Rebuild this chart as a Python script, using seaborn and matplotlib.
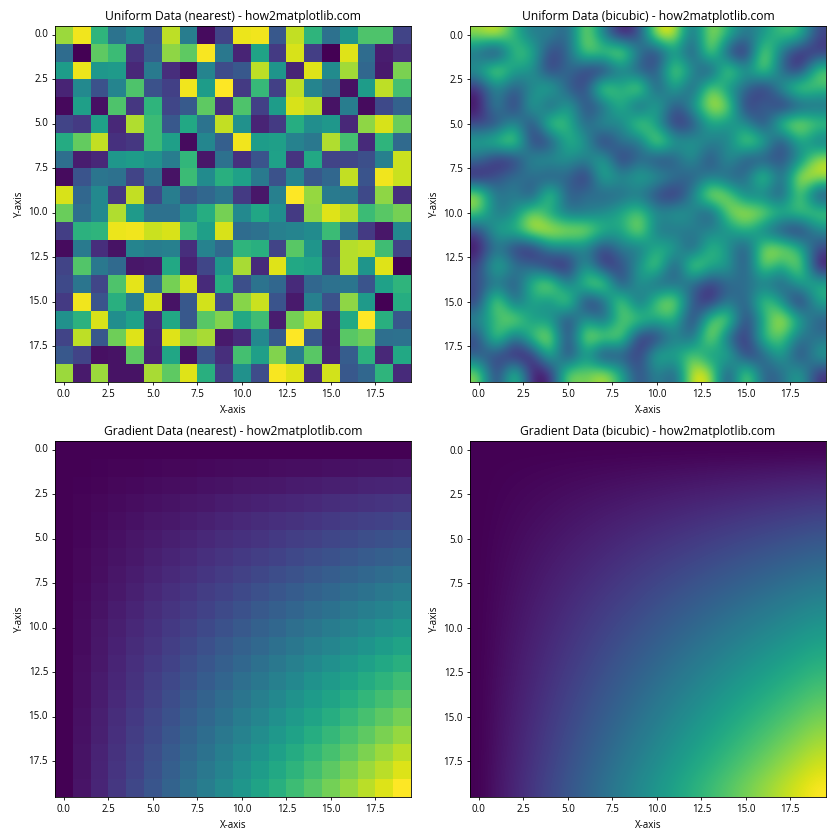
import matplotlib
matplotlib.use("Agg")
import matplotlib.pyplot as plt
import numpy as np
import seaborn as sns

# values
uniform_rows = [
    [.85, .98, .65, .38, .47, .27, .90, .42, .03, .20, .97, .98, .27, .91, .65, .37, .52, .72, .72, .20],
    [.35, .00, .75, .68, .15, .30, .83, .75, .99, .40, .10, .58, .17, .94, .18, .00, .95, .35, .08, .13],
    [.55, .97, .53, .54, .11, .41, .13, .05, .45, .23, .27, .90, .52, .10, .95, .48, .86, .33, .07, .80],
    [.10, .47, .25, .45, .72, .25, .19, .98, .55, 1.0, .17, .67, .19, .90, .45, .36, .04, .55, .90, .70],
    [.02, .56, .04, .72, .16, .65, .21, .28, .75, .14, .72, .19, .55, .94, .90, .05, .42, .03, .22, .31],
    [.20, .17, .57, .11, .88, .68, .27, .60, .38, .91, .50, .10, .17, .62, .49, .53, .11, .83, .94, .77],
    [.61, .76, .91, .14, .16, .68, .56, .03, .46, .30, .98, .55, .56, .44, .40, .88, .70, .12, .65, .34],
    [.36, .08, .11, .53, .55, .51, .42, .66, .06, .37, .14, .26, .57, .15, .60, .20, .21, .24, .43, .92],
    [.03, .26, .39, .37, .20, .36, .05, .68, .48, .63, .57, .41, .25, .45, .27, .33, .91, .26, .98, .92],
    [.94, .33, .47, .16, .91, .22, .42, .28, .33, .39, .17, .06, .43, 1.0, .84, .41, .40, .22, .83, .14],
    [.77, .36, .47, .88, .54, .37, .37, .49, .62, .79, .47, .59, .49, .17, .83, .95, .89, .68, .74, .79],
    [.18, .64, .65, .97, .98, .92, .94, .67, .56, .94, .35, .37, .43, .45, .48, .68, .38, .17, .06, .47],
    [.03, .41, .13, .05, .45, .42, .43, .13, .44, .34, .65, .63, .20, .74, .52, .18, .89, .91, .69, .20],
    [.20, .73, .40, .34, .06, .07, .60, .09, .21, .53, .87, .12, .95, .60, .58, .20, .89, .52, .95, .00],
    [.22, .39, .21, .72, .96, .34, .79, .94, .12, .62, .24, .38, .33, .12, .33, .37, .39, .26, .57, .65],
    [.17, .98, .26, .63, .42, .94, .05, .27, .93, .22, .82, .92, .26, .07, .43, .25, .83, .54, .00, .62],
    [.50, .64, .94, .49, .57, .12, .60, .27, .74, .81, .60, .69, .08, .79, .90, .10, .60, 1.0, .63, .27],
    [.20, .90, .27, .78, .95, .10, .95, .83, .87, .07, .12, .47, .28, 1.0, .27, .09, .74, .78, .36, .37],
    [.27, .20, .04, .05, .75, .09, .59, .04, .26, .13, .70, .56, .81, .42, .74, .10, .29, .64, .11, .60],
    [.85, .07, .85, .05, .05, .87, .75, .95, .63, .18, .50, .23, .99, .95, .12, .93, .27, .33, .65, .12],
]
gradient_rows = [
    [0] * 20,
    [0, .003, .006, .008, .011, .014, .017, .019, .022, .025, .028, .030, .033, .036, .039, .042, .044, .047, .050, .053],
    [0, .006, .011, .017, .022, .028, .033, .039, .044, .050, .055, .061, .066, .072, .078, .083, .089, .094, .100, .105],
    [0, .008, .017, .025, .033, .042, .050, .058, .066, .075, .083, .091, .100, .108, .116, .125, .133, .141, .150, .158],
    [0, .011, .022, .033, .044, .055, .066, .078, .089, .100, .111, .122, .133, .144, .155, .166, .177, .188, .199, .211],
    [0, .014, .028, .042, .055, .069, .083, .097, .111, .125, .139, .152, .166, .180, .194, .208, .222, .235, .249, .263],
    [0, .017, .033, .050, .066, .083, .100, .116, .133, .150, .166, .183, .199, .216, .233, .249, .266, .283, .299, .316],
    [0, .019, .039, .058, .078, .097, .116, .136, .155, .175, .194, .213, .233, .252, .271, .291, .310, .330, .349, .368],
    [0, .022, .044, .066, .089, .111, .133, .155, .177, .199, .222, .244, .266, .288, .310, .332, .355, .377, .399, .421],
    [0, .025, .050, .075, .100, .125, .150, .175, .199, .224, .249, .274, .299, .324, .349, .374, .399, .424, .449, .474],
    [0, .028, .055, .083, .111, .139, .166, .194, .222, .249, .277, .305, .332, .360, .388, .416, .443, .471, .499, .526],
    [0, .030, .061, .091, .122, .152, .183, .213, .244, .274, .305, .335, .366, .396, .427, .457, .488, .518, .548, .579],
    [0, .033, .066, .100, .133, .166, .199, .233, .266, .299, .332, .366, .399, .432, .465, .499, .532, .565, .598, .632],
    [0, .036, .072, .108, .144, .180, .216, .252, .288, .324, .360, .396, .432, .468, .504, .540, .576, .612, .648, .684],
    [0, .039, .078, .116, .155, .194, .233, .271, .310, .349, .388, .427, .465, .504, .543, .582, .620, .659, .698, .737],
    [0, .042, .083, .125, .166, .208, .249, .291, .332, .374, .416, .457, .499, .540, .582, .623, .665, .706, .748, .789],
    [0, .044, .089, .133, .177, .222, .266, .310, .355, .399, .443, .488, .532, .576, .620, .665, .709, .753, .798, .842],
    [0, .047, .094, .141, .188, .235, .283, .330, .377, .424, .471, .518, .565, .612, .659, .706, .753, .801, .848, .895],
    [0, .050, .100, .150, .199, .249, .299, .349, .399, .449, .499, .548, .598, .648, .698, .748, .798, .848, .898, .947],
    [0, .053, .105, .158, .211, .263, .316, .368, .421, .474, .526, .579, .632, .684, .737, .789, .842, .895, .947, 1.0],
]
tick_values = [0.0, 2.5, 5.0, 7.5, 10.0, 12.5, 15.0, 17.5]
tick_labels = ["0.0", "2.5", "5.0", "7.5", "10.0", "12.5", "15.0", "17.5"]
site = "how2matplotlib.com"

sns.set_theme(style="white", rc={"axes.linewidth": 0.6, "xtick.bottom": True, "ytick.left": True,
                                 "xtick.major.size": 2.5, "ytick.major.size": 2.5,
                                 "xtick.major.width": 0.6, "ytick.major.width": 0.6,
                                 "axes.edgecolor": "black", "text.color": "black",
                                 "axes.labelcolor": "black", "xtick.color": "black", "ytick.color": "black"})
plt.rcParams["font.family"] = ["Open Sans", "DejaVu Sans"]


def draw_panel(ax, rows, name, interpolation):
    data = np.array(rows)
    if interpolation == "nearest":
        # heatmap cells span 0..20, so ticks sit half a cell further on
        sns.heatmap(data, ax=ax, cmap="viridis", cbar=False, square=True)
        ax.set_xticks([v + 0.5 for v in tick_values], tick_labels, rotation=0)
        ax.set_yticks([v + 0.5 for v in tick_values], tick_labels, rotation=0)
        for spine in ax.spines.values():
            spine.set_visible(True)
    else:
        ax.imshow(data, cmap="viridis", interpolation=interpolation)
        ax.set_xticks(tick_values, tick_labels)
        ax.set_yticks(tick_values, tick_labels)
    ax.tick_params(labelsize=7, pad=2.5)
    ax.set_title(f"{name} ({interpolation}) - {site}", fontsize=8.7, pad=4)
    ax.set_xlabel("X-axis", fontsize=7, labelpad=4)
    ax.set_ylabel("Y-axis", fontsize=7, labelpad=2.5)


fig, axes = plt.subplots(2, 2, figsize=(8.4, 8.4), dpi=100)
draw_panel(axes[0, 0], uniform_rows, "Uniform Data", "nearest")
draw_panel(axes[0, 1], uniform_rows, "Uniform Data", "bicubic")
draw_panel(axes[1, 0], gradient_rows, "Gradient Data", "nearest")
draw_panel(axes[1, 1], gradient_rows, "Gradient Data", "bicubic")
fig.subplots_adjust(left=55 / 840, right=826 / 840, top=1 - 26 / 840, bottom=1 - 797 / 840,
                    wspace=59 / 356, hspace=59 / 356)
fig.savefig("out.png", dpi=100)
